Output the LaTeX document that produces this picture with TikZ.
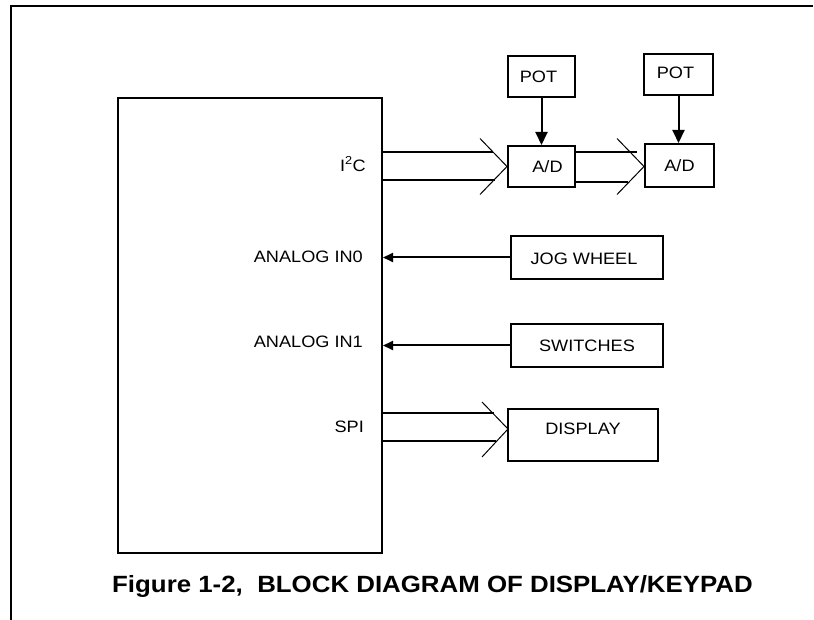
\documentclass[tikz,border=0pt]{standalone}
\usepackage{fontspec}
\usepackage{graphicx}
\setmainfont{Liberation Sans}
\usetikzlibrary{arrows.meta,calc}
% text in this figure is set slightly expanded
\newcommand\wtext[1]{\scalebox{1.1}[1]{#1}}
\begin{document}
\begin{tikzpicture}[x=1pt,y=-1pt,
  every node/.style={font=\fontsize{16.5}{19}\selectfont, inner sep=0pt},
  blk/.style={draw, line width=2pt, minimum width=#1, anchor=north west},
  lbl/.style={anchor=east},
  wire/.style={line width=2pt},
  chev/.style={line width=1pt},
  potarrow/.style={line width=2pt, -{Triangle[length=13pt,width=12pt]}},
  inarrow/.style={line width=2pt, -{Triangle[length=10pt,width=9pt]}}
]
% page size
\useasboundingbox (0,0) rectangle (814,620);
% figure frame (top and left edges)
\draw[line width=2pt] (813,6) -- (11,6) -- (11,620);

% controller block
\node[blk=264pt, minimum height=455pt] (mcu) at (117,97) {};

% pin labels
\node[lbl] (li2c) at (366,164) {\wtext{I\textsuperscript{2}C}};
\node[lbl] (lan0) at (363,257) {\wtext{ANALOG IN0}};
\node[lbl] (lan1) at (363,342) {\wtext{ANALOG IN1}};
\node[lbl] (lspi) at (364,427) {\wtext{SPI}};

% peripheral blocks
\node[blk=67pt, minimum height=41pt] (pot1) at (507,55) {};
\node[blk=69pt, minimum height=41pt] (pot2) at (643,53) {};
\node[blk=67pt, minimum height=41pt] (ad1) at (507,145) {};
\node[blk=69pt, minimum height=43pt] (ad2) at (644,143) {};
\node[blk=152pt, minimum height=43pt] (jog) at (510,235) {};
\node[blk=152pt, minimum height=43pt] (sw) at (510,323) {};
\node[blk=150pt, minimum height=52pt] (disp) at (507,408) {};

% block captions
\node (tpot1) at ($(pot1.center)+(-3,0)$) {\wtext{POT}};
\node (tpot2) at ($(pot2.center)+(-3,-2)$) {\wtext{POT}};
\node (tad1) at ($(ad1.center)+(6,0)$) {\wtext{A/D}};
\node (tad2) at ($(ad2.center)+(0,0)$) {\wtext{A/D}};
\node (tjog) at ($(jog.center)+(-3,1)$) {\wtext{JOG WHEEL}};
\node (tsw) at ($(sw.center)+(0,0)$) {\wtext{SWITCHES}};
\node (tdisp) at ($(disp.center)+(0,-6)$) {\wtext{DISPLAY}};

% bus tap points
\coordinate (b1u) at (381,152);
\coordinate (b1l) at (381,180);
\coordinate (b2u) at (574,152);
\coordinate (b2l) at (574,182);
\coordinate (b3u) at (381,413);
\coordinate (b3l) at (381,441);
\coordinate (t1) at (ad1.west);
\coordinate (t2) at ($(ad2.west)+(0,1)$);
\coordinate (t3) at (508,429);

% I2C bus to first A/D
\draw[wire] (b1u) -- ($(b1u -| t1)+(-14,0)$);
\draw[wire] (b1l) -- ($(b1l -| t1)+(-12,0)$);
\draw[chev] ($(t1)+(-27,-28)$) -- (t1) -- ($(t1)+(-27,28)$);

% bus between the A/D converters
\draw[wire] (b2u) -- ($(b2u -| t2)+(-7,0)$);
\draw[wire] (b2l) -- ($(b2l -| t2)+(-16,0)$);
\draw[chev] ($(t2)+(-27,-28)$) -- (t2) -- ($(t2)+(-27,28)$);

% SPI bus to display
\draw[wire] (b3u) -- ($(b3u -| t3)+(-14,0)$);
\draw[wire] (b3l) -- ($(b3l -| t3)+(-12,0)$);
\draw[chev] ($(t3)+(-26,-27)$) -- (t3) -- ($(t3)+(-26,28)$);

% potentiometer inputs
\draw[potarrow] (pot1.south) -- (pot1.south |- ad1.north);
\draw[potarrow] (pot2.south) -- (pot2.south |- ad2.north);

% analog inputs
\draw[inarrow] (jog.west) -- (jog.west -| mcu.east);
\draw[inarrow] (sw.west) -- (sw.west -| mcu.east);

% caption
\node[font=\fontsize{23.5}{28}\selectfont\bfseries, anchor=west] (cap) at (112,586)
  {\wtext{Figure 1-2,~ BLOCK DIAGRAM OF DISPLAY/KEYPAD}};
\end{tikzpicture}
\end{document}
